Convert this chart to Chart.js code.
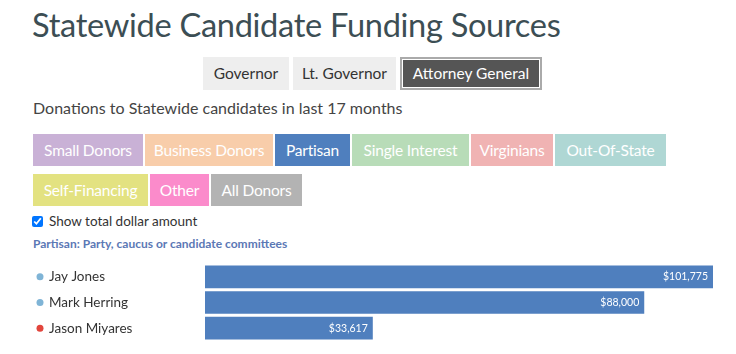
<!DOCTYPE html>
<html>
<head>
<meta charset="utf-8">
<script src="https://cdn.jsdelivr.net/npm/chart.js@4"></script>
<style>
  body { margin: 0; font-family: Lato, "Open Sans", sans-serif; background: #fff; width: 736px; height: 354px; overflow: hidden; position: relative; }
  h1 { position: absolute; left: 32px; top: 5px; margin: 0; font-weight: 400; font-size: 32.6px; color: #3c4e54; letter-spacing: -0.3px; }
  .races { position: absolute; left: 203px; top: 57px; display: flex; gap: 4px; }
  .races div { height: 33px; line-height: 33px; text-align: center; background: #eeeeee; color: #333; font-size: 15.5px; box-sizing: border-box; white-space: nowrap; }
  .races div.on { background: #555; color: #fff; border: 2px solid #aaa; box-shadow: inset 0 0 0 1px #fff; line-height: 29px; }
  .sub { position: absolute; left: 33px; top: 98px; font-size: 16px; color: #444; }
  .cats { position: absolute; left: 33px; top: 134px; width: 660px; }
  .cats div { float: left; height: 32px; line-height: 32px; text-align: center; color: #fff; font-size: 15.5px; margin: 0 2px 8px 0; white-space: nowrap; letter-spacing: -0.2px; }
  .chk { position: absolute; left: 32px; top: 213px; font-size: 13.5px; color: #333; display: flex; align-items: center; }
  .chk input { margin: 0 6px 0 0; width: 11px; height: 11px; }
  .desc { position: absolute; left: 33px; top: 236px; font-size: 12px; font-weight: 700; color: #5b78b5; }
  .wrap { position: absolute; left: 30px; top: 260px; width: 690px; height: 86px; }
</style>
</head>
<body>
<h1>Statewide Candidate Funding Sources</h1>
<div class="races">
  <div style="width:86px">Governor</div><div style="width:103px">Lt. Governor</div><div class="on" style="width:142px">Attorney General</div>
</div>
<div class="sub">Donations to Statewide candidates in last 17 months</div>
<div class="cats">
  <div style="width:110px;background:#c9b1d6">Small Donors</div>
  <div style="width:128px;background:#f8cdaa">Business Donors</div>
  <div style="width:75px;background:#4f7fbe">Partisan</div>
  <div style="width:117px;background:#b8dcb8">Single Interest</div>
  <div style="width:82px;background:#f0b3b3">Virginians</div>
  <div style="width:111px;background:#afd7d4">Out-Of-State</div>
  <div style="clear:left;width:115px;background:#e3e281">Self-Financing</div>
  <div style="width:59px;background:#fb8bcb">Other</div>
  <div style="width:91px;background:#b3b3b3">All Donors</div>
</div>
<label class="chk"><input type="checkbox" checked>Show total dollar amount</label>
<div class="desc">Partisan: Party, caucus or candidate committees</div>
<div class="wrap"><canvas id="chart"></canvas></div>
<script>
// Data
const candidates = ['Jay Jones', 'Mark Herring', 'Jason Miyares'];
const partisanAmounts = [101775, 88000, 33617];
const partyColors = ['#7fb4d6', '#7fb4d6', '#e2453c'];

// Names with party dots on the left
const nameLabels = {
  id: 'nameLabels',
  afterDraw(chart) {
    const c = chart.ctx;
    const yScale = chart.scales.y;
    c.save();
    c.font = '13.5px Lato';
    c.textBaseline = 'middle';
    candidates.forEach((name, i) => {
      const y = yScale.getPixelForTick(i);
      c.fillStyle = partyColors[i];
      c.beginPath();
      c.arc(10, y, 3.5, 0, Math.PI * 2);
      c.fill();
      c.fillStyle = '#333';
      c.textAlign = 'left';
      c.fillText(name, 19, y);
    });
    c.restore();
  }
};

// Dollar amounts inside the bars
const valueLabels = {
  id: 'valueLabels',
  afterDatasetsDraw(chart) {
    const c = chart.ctx;
    const meta = chart.getDatasetMeta(0);
    c.save();
    c.font = '10.5px Lato';
    c.fillStyle = '#fff';
    c.textAlign = 'right';
    c.textBaseline = 'middle';
    meta.data.forEach((bar, i) => {
      c.fillText('$' + partisanAmounts[i].toLocaleString('en-US'), bar.x - 5, bar.y);
    });
    c.restore();
  }
};

new Chart(document.getElementById('chart'), {
  type: 'bar',
  data: {
    labels: candidates,
    datasets: [{
      data: partisanAmounts,
      backgroundColor: '#4f7fbe',
      barPercentage: 0.88,
      categoryPercentage: 1
    }]
  },
  options: {
    indexAxis: 'y',
    responsive: true,
    maintainAspectRatio: false,
    animation: false,
    layout: { padding: { top: 4, bottom: 5, right: 7 } },
    plugins: { legend: { display: false }, tooltip: { enabled: false } },
    scales: {
      x: { display: false, min: 0, max: 101775 },
      y: {
        grid: { display: false },
        border: { display: false },
        ticks: { display: false },
        afterFit(scale) { scale.width = 175; }
      }
    }
  },
  plugins: [nameLabels, valueLabels]
});
</script>
</body>
</html>
